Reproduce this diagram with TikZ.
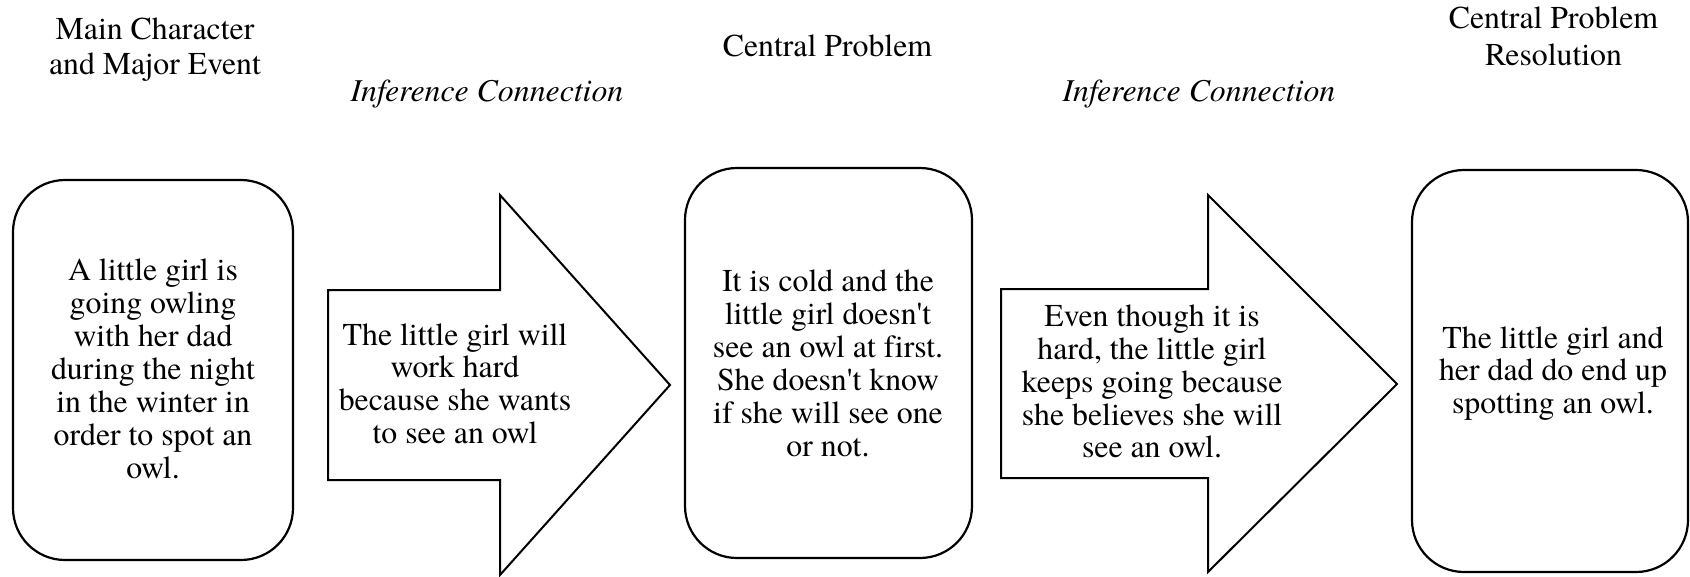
\documentclass[tikz,border=0pt]{standalone}
\usepackage{fontspec}
\setmainfont{texgyretermes}[
  Extension=.otf,
  UprightFont=*-regular,
  ItalicFont=*-italic,
  BoldFont=*-bold,
  BoldItalicFont=*-bolditalic,
  Ligatures=NoCommon]
\tikzset{
  card/.style={draw, line width=2.2pt, rounded corners=52pt, inner sep=0pt},
  bigarrow/.style={draw, line width=2pt, line join=miter},
  body/.style={anchor=base, inner sep=0pt, font=\fontsize{31.8}{33}\selectfont},
  head/.style={anchor=base, inner sep=0pt, font=\fontsize{31.8}{35.5}\selectfont},
  infer/.style={anchor=base, inner sep=0pt, font=\fontsize{31.8}{35}\selectfont\itshape}
}
\begin{document}
\begin{tikzpicture}[x=1pt, y=-1pt]
\useasboundingbox (0,0) rectangle (1690,576);

% story boxes
\node[card, minimum width=280pt, minimum height=380pt] (event) at (153,370) {};
\node[card, minimum width=287pt, minimum height=390pt] (problem) at (828.5,363) {};
\node[card, minimum width=276pt, minimum height=402pt] (resolution) at (1550,371) {};

% inference arrows
\draw[bigarrow] (328,290) -- (500,290) -- (500,195) -- (670,385)
  -- (500,575) -- (500,480) -- (328,480) -- cycle;
\draw[bigarrow] (1001,289) -- (1208,289) -- (1208,195) -- (1397,384)
  -- (1208,572) -- (1208,478) -- (1001,478) -- cycle;

% column headings
\node[head] (h1) at (155,39.3) {\begin{tabular}[t]{@{}c@{}}Main Character\\and Major Event\end{tabular}};
\node[infer] (h2) at (487,101.7) {Inference Connection};
\node[head] (h3) at (827.5,56) {Central Problem};
\node[infer] (h4) at (1199,101.7) {Inference Connection};
\node[head, font=\fontsize{31.8}{37}\selectfont] (h5) at (1553.5,28) {\begin{tabular}[t]{@{}c@{}}Central Problem\\Resolution\end{tabular}};

% texts
\node[body] (t1) at (153,280) {\begin{tabular}[t]{@{}c@{}}A little girl is\\going owling\\with her dad\\during the night\\in the winter in\\order to spot an\\owl.\end{tabular}};
\node[body, font=\fontsize{31.8}{32.7}\selectfont] (t2) at (455,345) {\begin{tabular}[t]{@{}c@{}}The little girl will\\work hard\\because she wants\\to see an owl\end{tabular}};
\node[body] (t3) at (828,291.7) {\begin{tabular}[t]{@{}c@{}}It is cold and the\\little girl doesn\textquotesingle t\\see an owl at first.\\She doesn\textquotesingle t know\\if she will see one\\or not.\end{tabular}};
\node[body, font=\fontsize{31.8}{32.8}\selectfont] (t4) at (1152,326.7) {\begin{tabular}[t]{@{}c@{}}Even though it is\\hard, the little girl\\keeps going because\\she believes she will\\see an owl.\end{tabular}};
\node[body, font=\fontsize{31.8}{32.5}\selectfont] (t5) at (1553,348) {\begin{tabular}[t]{@{}c@{}}The little girl and\\her dad do end up\\spotting an owl.\end{tabular}};
\end{tikzpicture}
\end{document}
